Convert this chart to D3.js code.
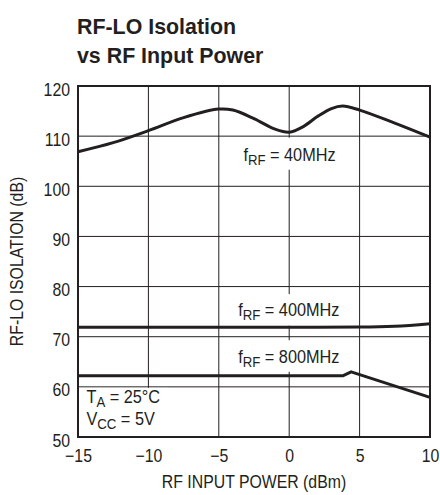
<!DOCTYPE html>
<html>
<head>
<meta charset="utf-8">
<script src="https://cdnjs.cloudflare.com/ajax/libs/d3/7.8.5/d3.min.js"></script>
<style>
  body { margin: 0; background: #fff; }
  text { font-family: "Liberation Sans", Arial, sans-serif; fill: #231f20; }
</style>
</head>
<body>
<div id="chart"></div>
<script>
// Data
const xTicks = [-15, -10, -5, 0, 5, 10];
const yTicks = [50, 60, 70, 80, 90, 100, 110, 120];

const rf40 = [
    [-15, 106.9], [-12.5, 108.7], [-10, 111.1], [-7.5, 113.7], [-5, 115.4],
    [-4, 115.2], [-2.5, 113.5], [-1, 111.4], [0, 110.8], [1, 111.9],
    [2, 113.9], [3, 115.5], [3.8, 116.0], [5, 115.2], [7.5, 112.6], [10, 109.8]
];
const rf400 = [
    [-15, 71.9], [-10, 71.9], [-5, 71.9], [0, 71.9], [5, 71.95], [7.5, 72.1], [10, 72.6]
];
const rf800 = [
    [-15, 62.2], [3.8, 62.2], [4.4, 63.0], [10, 57.9]
];

const width = 440, height = 495;
const margin = { top: 86, right: 10, bottom: 58, left: 78 };
const innerW = width - margin.left - margin.right;
const innerH = height - margin.top - margin.bottom;
const squeeze = 0.88;   // fake a condensed face

// squeeze text horizontally around its anchor point
function condense(sel, k) {
    sel.each(function () {
        const t = d3.select(this);
        const px = +t.attr("x") || 0;
        const prev = t.attr("transform") || "";
        t.attr("transform", `${prev} translate(${px},0) scale(${k},1) translate(${-px},0)`);
    });
}

const svg = d3.select("#chart")
    .append("svg")
    .attr("width", width)
    .attr("height", height);

// Title
svg.append("text")
    .attr("x", 77).attr("y", 34)
    .style("font-size", "23px").style("font-weight", "bold")
    .text("RF-LO Isolation")
    .call(condense, 0.93);
svg.append("text")
    .attr("x", 77).attr("y", 63)
    .style("font-size", "23px").style("font-weight", "bold")
    .text("vs RF Input Power")
    .call(condense, 0.93);

const g = svg.append("g").attr("transform", `translate(${margin.left},${margin.top})`);

const x = d3.scaleLinear().domain([-15, 10]).range([0, innerW]);
const y = d3.scaleLinear().domain([50, 120]).range([innerH, 0]);

// Grid
g.append("g").selectAll("line").data(xTicks).join("line")
    .attr("x1", d => x(d)).attr("x2", d => x(d))
    .attr("y1", 0).attr("y2", innerH)
    .attr("stroke", "#231f20").attr("stroke-width", 1);
g.append("g").selectAll("line").data(yTicks).join("line")
    .attr("x1", 0).attr("x2", innerW)
    .attr("y1", d => y(d)).attr("y2", d => y(d))
    .attr("stroke", "#231f20").attr("stroke-width", 1);

// Label background boxes (cover grid lines)
const labelBoxes = [
    { x0: -3.5, x1: 3.2, y0: 109.7, y1: 103.3 },
    { x0: -3.9, x1: 3.6, y0: 78.5, y1: 72.2 },
    { x0: -3.9, x1: 3.6, y0: 69.3, y1: 63.0 },
    { x0: -15, x1: -8.6, y0: 59.8, y1: 50 }
];
g.append("g").selectAll("rect").data(labelBoxes).join("rect")
    .attr("x", d => x(d.x0)).attr("y", d => y(d.y0))
    .attr("width", d => x(d.x1) - x(d.x0))
    .attr("height", d => y(d.y1) - y(d.y0))
    .attr("fill", "#fff");

// Frame
g.append("rect")
    .attr("width", innerW).attr("height", innerH)
    .attr("fill", "none").attr("stroke", "#231f20").attr("stroke-width", 2);

// Axes labels
const xAxis = d3.axisBottom(x).tickValues(xTicks).tickSize(0)
    .tickFormat(d => d < 0 ? "\u2212" + Math.abs(d) : d);
g.append("g")
    .attr("transform", `translate(0,${innerH})`)
    .call(xAxis)
    .call(a => a.select(".domain").remove())
    .selectAll("text")
    .attr("dy", "1.2em")
    .style("font-size", "18px").attr("fill", "#231f20")
    .call(condense, squeeze);

const yAxis = d3.axisLeft(y).tickValues(yTicks).tickSize(0);
g.append("g")
    .call(yAxis)
    .call(a => a.select(".domain").remove())
    .selectAll("text")
    .attr("x", -8).attr("dy", "0.5em")
    .style("font-size", "18px").attr("fill", "#231f20")
    .call(condense, squeeze);

svg.append("text")
    .attr("x", margin.left + innerW / 2).attr("y", 488)
    .attr("text-anchor", "middle")
    .style("font-size", "18px")
    .text("RF INPUT POWER (dBm)")
    .call(condense, squeeze);

svg.append("text")
    .attr("transform", `translate(23,${margin.top + innerH / 2}) rotate(-90) scale(${squeeze},1)`)
    .attr("text-anchor", "middle")
    .style("font-size", "18px")
    .text("RF-LO ISOLATION (dB)");

// Curves
const line = d3.line()
    .x(d => x(d[0]))
    .y(d => y(d[1]));

const curves = [
    { data: rf40, curve: d3.curveCatmullRom.alpha(0.5) },
    { data: rf400, curve: d3.curveMonotoneX },
    { data: rf800, curve: d3.curveLinear }
];
curves.forEach(c => {
    g.append("path").datum(c.data)
        .attr("fill", "none").attr("stroke", "#231f20")
        .attr("stroke-width", 3).attr("stroke-linejoin", "round")
        .attr("d", line.curve(c.curve));
});

// Curve labels
function subLabel(px, py, main, sub, rest) {
    const t = g.append("text").attr("x", px).attr("y", py).style("font-size", "18.5px");
    t.append("tspan").text(main);
    t.append("tspan").attr("dy", 4).style("font-size", "15px").text(sub);
    t.append("tspan").attr("dy", -4).text(rest);
    t.call(condense, squeeze);
    return t;
}
subLabel(x(-3.25), y(105.0), "f", "RF", " = 40MHz");
subLabel(x(-3.62), y(74.1), "f", "RF", " = 400MHz");
subLabel(x(-3.62), y(64.7), "f", "RF", " = 800MHz");
subLabel(x(-14.4), y(56.75), "T", "A", " = 25\u00B0C");
subLabel(x(-14.4), y(52.4), "V", "CC", " = 5V");
</script>
</body>
</html>
